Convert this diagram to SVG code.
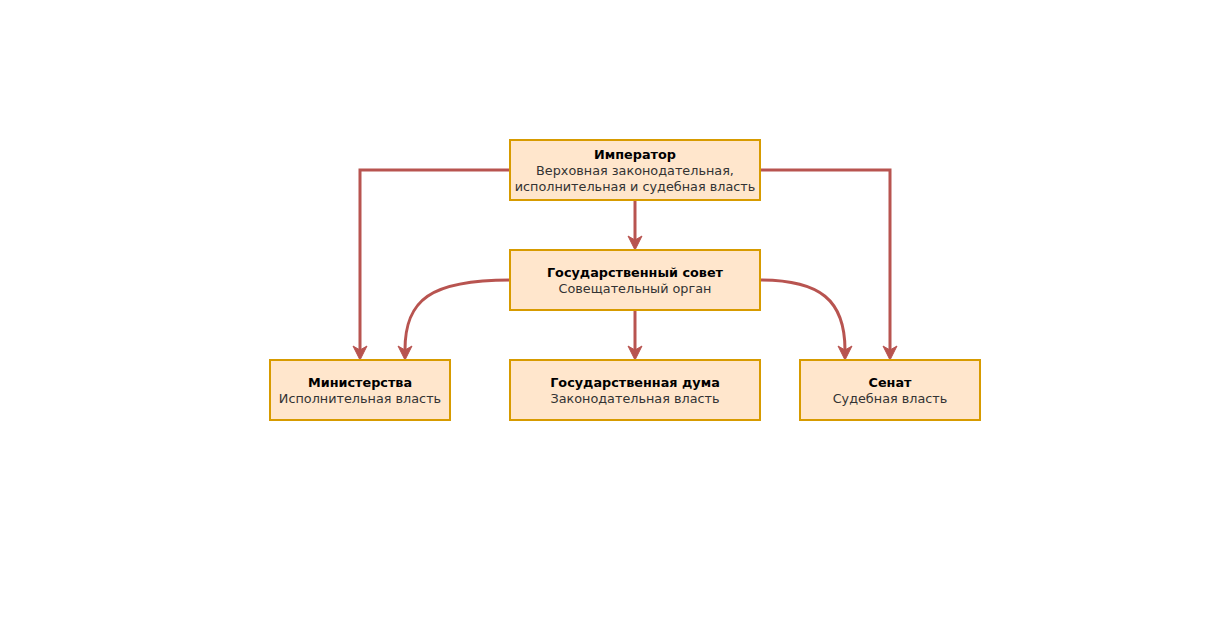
<svg xmlns="http://www.w3.org/2000/svg" width="1231" height="621" viewBox="0 0 1231 621">
<style>
.box{fill:#ffe6cc;stroke:#d79b00;stroke-width:2}
.t{font-family:"DejaVu Sans",Verdana,sans-serif;font-size:12.8px;text-anchor:middle;fill:#333}
.b{font-weight:bold;fill:#000}
.e{fill:none;stroke:#b85450;stroke-width:3}
</style>
<defs>
<marker id="arr" markerUnits="userSpaceOnUse" markerWidth="20" markerHeight="20" viewBox="-14 -10 16 20" refX="-10" refY="0" orient="auto">
<path d="M0,0 L-14,-7 L-10,0 L-14,7 Z" fill="#b85450" stroke="#b85450" stroke-width="1"/>
</marker>
</defs>
<rect width="1231" height="621" fill="#fff"/>
<g id="connectors">
<path class="e" d="M510,170 H360 V350" marker-end="url(#arr)"/>
<path class="e" d="M760,170 H890 V350" marker-end="url(#arr)"/>
<path class="e" d="M635,200 V240" marker-end="url(#arr)"/>
<path class="e" d="M635,310 V350" marker-end="url(#arr)"/>
<path class="e" d="M510,280 C430,280 405,300 405,350" marker-end="url(#arr)"/>
<path class="e" d="M760,280 C820,280 845,300 845,350" marker-end="url(#arr)"/>
</g>
<g id="imperator">
<rect class="box" x="510" y="140" width="250" height="60"/>
<text class="t b" x="635" y="159">Император</text>
<text class="t" x="635" y="175">Верховная законодательная,</text>
<text class="t" x="635" y="191">исполнительная и судебная власть</text>
</g>
<g id="council">
<rect class="box" x="510" y="250" width="250" height="60"/>
<text class="t b" x="635" y="277">Государственный совет</text>
<text class="t" x="635" y="293">Совещательный орган</text>
</g>
<g id="ministries">
<rect class="box" x="270" y="360" width="180" height="60"/>
<text class="t b" x="360" y="387">Министерства</text>
<text class="t" x="360" y="403">Исполнительная власть</text>
</g>
<g id="duma">
<rect class="box" x="510" y="360" width="250" height="60"/>
<text class="t b" x="635" y="387">Государственная дума</text>
<text class="t" x="635" y="403">Законодательная власть</text>
</g>
<g id="senate">
<rect class="box" x="800" y="360" width="180" height="60"/>
<text class="t b" x="890" y="387">Сенат</text>
<text class="t" x="890" y="403">Судебная власть</text>
</g>
</svg>
